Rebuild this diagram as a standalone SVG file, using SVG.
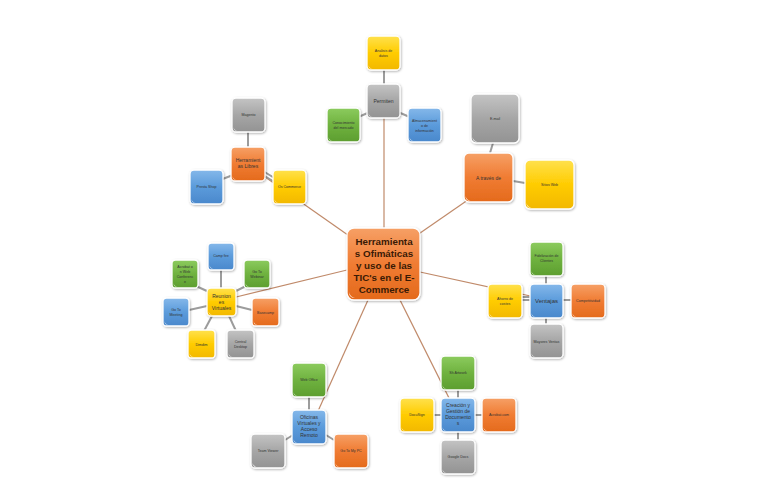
<svg xmlns="http://www.w3.org/2000/svg" width="768" height="497" viewBox="0 0 768 497">
<defs>
<linearGradient id="gO" x1="0" y1="0" x2="0" y2="1"><stop offset="0" stop-color="#f6a066"/><stop offset="0.5" stop-color="#f07c33"/><stop offset="1" stop-color="#e46a1c"/></linearGradient>
<linearGradient id="gY" x1="0" y1="0" x2="0" y2="1"><stop offset="0" stop-color="#ffe14d"/><stop offset="0.5" stop-color="#ffcc00"/><stop offset="1" stop-color="#f2b800"/></linearGradient>
<linearGradient id="gG" x1="0" y1="0" x2="0" y2="1"><stop offset="0" stop-color="#8ccb5e"/><stop offset="0.5" stop-color="#6fb23f"/><stop offset="1" stop-color="#5d9e30"/></linearGradient>
<linearGradient id="gB" x1="0" y1="0" x2="0" y2="1"><stop offset="0" stop-color="#85b8ea"/><stop offset="0.5" stop-color="#5b9bdb"/><stop offset="1" stop-color="#4a88cc"/></linearGradient>
<linearGradient id="gA" x1="0" y1="0" x2="0" y2="1"><stop offset="0" stop-color="#c4c4c4"/><stop offset="0.5" stop-color="#a6a6a6"/><stop offset="1" stop-color="#939393"/></linearGradient>
<filter id="sh" x="-20%" y="-20%" width="140%" height="140%"><feDropShadow dx="0.8" dy="1" stdDeviation="0.8" flood-color="#000" flood-opacity="0.3"/></filter>
</defs>
<style>
rect.n{stroke:#ffffff;stroke-width:1.3;filter:url(#sh)}
.o{fill:url(#gO)}.y{fill:url(#gY)}.g{fill:url(#gG)}.b{fill:url(#gB)}.a{fill:url(#gA)}
.curl{fill:#ffffff;opacity:0.85}
text{font-family:"Liberation Sans",Arial,sans-serif;fill:#333;text-anchor:middle}
.t4{font-size:3.6px}
.t5{font-size:5px}
.t6{font-size:6px}
.tc{font-size:9.8px;font-weight:bold;fill:#3a1a05}
.main{stroke:#c08a6a;stroke-width:1.2;fill:none}
.sub{stroke:#9c9c9c;stroke-width:2;fill:none}
</style>
<rect width="768" height="497" fill="#ffffff"/>
<g id="connectors">
<line class="main" x1="384" y1="228" x2="384" y2="118"/>
<line class="main" x1="410" y1="240" x2="475" y2="195"/>
<line class="main" x1="355" y1="240" x2="258" y2="172"/>
<line class="main" x1="347" y1="270" x2="232" y2="298"/>
<line class="main" x1="420" y1="272" x2="535" y2="297"/>
<line class="main" x1="368" y1="300" x2="314" y2="420"/>
<line class="main" x1="400" y1="300" x2="455" y2="410"/>
<line class="sub" x1="384" y1="70" x2="384" y2="84"/>
<line class="sub" x1="370" y1="112" x2="356" y2="118"/>
<line class="sub" x1="398" y1="112" x2="412" y2="118"/>
<line class="sub" x1="490" y1="153" x2="493" y2="143"/>
<line class="sub" x1="513" y1="181" x2="525" y2="183"/>
<line class="sub" x1="248" y1="132" x2="248" y2="147"/>
<line class="sub" x1="233" y1="175" x2="220" y2="180"/>
<line class="sub" x1="263" y1="171" x2="276" y2="179" stroke-width="1.2"/>
<line class="sub" x1="263" y1="175" x2="276" y2="183" stroke-width="1.2"/>
<line class="sub" x1="221" y1="270" x2="221" y2="288"/>
<line class="sub" x1="246" y1="286" x2="234" y2="292"/>
<line class="sub" x1="196" y1="286" x2="209" y2="292"/>
<line class="sub" x1="189" y1="310" x2="207" y2="306"/>
<line class="sub" x1="236" y1="306" x2="252" y2="310"/>
<line class="sub" x1="204" y1="331" x2="212" y2="316"/>
<line class="sub" x1="236" y1="331" x2="229" y2="316"/>
<line class="sub" x1="546" y1="276" x2="546" y2="284"/>
<line class="sub" x1="522" y1="297" x2="530" y2="297" stroke-width="1.2"/>
<line class="sub" x1="522" y1="300" x2="530" y2="300" stroke-width="1.2"/>
<line class="sub" x1="563" y1="300" x2="571" y2="300"/>
<line class="sub" x1="546" y1="318" x2="546" y2="324"/>
<line class="sub" x1="309" y1="397" x2="309" y2="410"/>
<line class="sub" x1="285" y1="440" x2="293" y2="435"/>
<line class="sub" x1="326" y1="435" x2="334" y2="440"/>
<line class="sub" x1="458" y1="390" x2="458" y2="398"/>
<line class="sub" x1="434" y1="415" x2="441" y2="415"/>
<line class="sub" x1="475" y1="415" x2="482" y2="415"/>
<line class="sub" x1="458" y1="432" x2="458" y2="440"/>
</g>

<g id="center" transform="translate(347,228)">
<rect class="n o" width="73" height="72" rx="7"/>
<path class="curl" d="M2,64 q0,6 6,6 q-5,-1 -6,-6z"/>
<text class="tc" x="37" y="17">Herramienta</text>
<text class="tc" x="37" y="29">s Ofimáticas</text>
<text class="tc" x="37" y="41">y uso de las</text>
<text class="tc" x="37" y="53">TIC's en el E-</text>
<text class="tc" x="37" y="65">Commerce</text>
</g>

<g id="permiten" transform="translate(367,84)"><rect class="n a" width="33" height="34" rx="4"/><path class="curl" d="M1.5,29 q0,4 4,4 q-3.5,-1 -4,-4z"/><text class="t5" x="16.5" y="19">Permiten</text></g>
<g id="analisis" transform="translate(367,36)"><rect class="n y" width="33" height="34" rx="4"/><path class="curl" d="M1.5,29 q0,4 4,4 q-3.5,-1 -4,-4z"/><text class="t4" x="16.5" y="16">Analisis de</text><text class="t4" x="16.5" y="21">datos</text></g>
<g id="conocimiento" transform="translate(327,108)"><rect class="n g" width="33" height="34" rx="4"/><path class="curl" d="M1.5,29 q0,4 4,4 q-3.5,-1 -4,-4z"/><text class="t4" x="16.5" y="16">Conocimiento</text><text class="t4" x="16.5" y="21">del mercado</text></g>
<g id="almacenamiento" transform="translate(408,108)"><rect class="n b" width="33" height="34" rx="4"/><path class="curl" d="M1.5,29 q0,4 4,4 q-3.5,-1 -4,-4z"/><text class="t4" x="16.5" y="14">Almacenamient</text><text class="t4" x="16.5" y="19">o de</text><text class="t4" x="16.5" y="24">información</text></g>

<g id="atraves" transform="translate(464,153)"><rect class="n o" width="49" height="49" rx="5"/><path class="curl" d="M1.5,43 q0,5 5,5 q-4,-1 -5,-5z"/><text class="t5" x="24.5" y="27">A través de</text></g>
<g id="email" transform="translate(471,94)"><rect class="n a" width="48" height="49" rx="5"/><path class="curl" d="M1.5,43 q0,5 5,5 q-4,-1 -5,-5z"/><text class="t4" x="24" y="26">E-mail</text></g>
<g id="sitios" transform="translate(525,160)"><rect class="n y" width="49" height="49" rx="5"/><path class="curl" d="M1.5,43 q0,5 5,5 q-4,-1 -5,-5z"/><text class="t4" x="24.5" y="26">Sitios Web</text></g>

<g id="herramientas" transform="translate(231,147)"><rect class="n o" width="34" height="34" rx="4"/><path class="curl" d="M1.5,29 q0,4 4,4 q-3.5,-1 -4,-4z"/><text class="t5" x="17" y="15">Herramient</text><text class="t5" x="17" y="21">as Libres</text></g>
<g id="magento" transform="translate(232,98)"><rect class="n a" width="33" height="34" rx="4"/><path class="curl" d="M1.5,29 q0,4 4,4 q-3.5,-1 -4,-4z"/><text class="t4" x="16.5" y="18">Magento</text></g>
<g id="presta" transform="translate(190,170)"><rect class="n b" width="33" height="34" rx="4"/><path class="curl" d="M1.5,29 q0,4 4,4 q-3.5,-1 -4,-4z"/><text class="t4" x="16.5" y="18">Presta Shop</text></g>
<g id="oscommerce" transform="translate(273,170)"><rect class="n y" width="33" height="34" rx="4"/><path class="curl" d="M1.5,29 q0,4 4,4 q-3.5,-1 -4,-4z"/><text class="t4" x="16.5" y="18">Os Commerce</text></g>

<g id="reuniones" transform="translate(207,288)"><rect class="n y" width="29" height="28" rx="4"/><path class="curl" d="M1.5,23 q0,4 4,4 q-3.5,-1 -4,-4z"/><text class="t5" x="14.5" y="10">Reunion</text><text class="t5" x="14.5" y="16">es</text><text class="t5" x="14.5" y="22">Virtuales</text></g>
<g id="campfire" transform="translate(208,243)"><rect class="n b" width="26" height="27" rx="3.5"/><path class="curl" d="M1.5,22 q0,4 4,4 q-3.5,-1 -4,-4z"/><text class="t4" x="13" y="14">Camp fire</text></g>
<g id="gotowebinar" transform="translate(244,260)"><rect class="n g" width="26" height="28" rx="3.5"/><path class="curl" d="M1.5,23 q0,4 4,4 q-3.5,-1 -4,-4z"/><text class="t4" x="13" y="13">Go To</text><text class="t4" x="13" y="18">Webinar</text></g>
<g id="acrobatweb" transform="translate(172,260)"><rect class="n g" width="26" height="28" rx="3.5"/><path class="curl" d="M1.5,23 q0,4 4,4 q-3.5,-1 -4,-4z"/><text class="t4" x="13" y="8">Acrobat o</text><text class="t4" x="13" y="13">n Web</text><text class="t4" x="13" y="18">Conferenc</text><text class="t4" x="13" y="23">e</text></g>
<g id="gotomeeting" transform="translate(163,298)"><rect class="n b" width="26" height="28" rx="3.5"/><path class="curl" d="M1.5,23 q0,4 4,4 q-3.5,-1 -4,-4z"/><text class="t4" x="13" y="13">Go To</text><text class="t4" x="13" y="18">Meeting</text></g>
<g id="basecamp" transform="translate(252,298)"><rect class="n o" width="27" height="28" rx="3.5"/><path class="curl" d="M1.5,23 q0,4 4,4 q-3.5,-1 -4,-4z"/><text class="t4" x="13.5" y="16">Basecamp</text></g>
<g id="dimdim" transform="translate(188,330)"><rect class="n y" width="27" height="28" rx="3.5"/><path class="curl" d="M1.5,23 q0,4 4,4 q-3.5,-1 -4,-4z"/><text class="t4" x="13.5" y="16">Dimdim</text></g>
<g id="centraldesktop" transform="translate(227,330)"><rect class="n a" width="27" height="28" rx="3.5"/><path class="curl" d="M1.5,23 q0,4 4,4 q-3.5,-1 -4,-4z"/><text class="t4" x="13.5" y="13">Central</text><text class="t4" x="13.5" y="18">Desktop</text></g>

<g id="ventajas" transform="translate(530,284)"><rect class="n b" width="33" height="34" rx="4"/><path class="curl" d="M1.5,29 q0,4 4,4 q-3.5,-1 -4,-4z"/><text class="t6" x="16.5" y="19">Ventajas</text></g>
<g id="fidelizacion" transform="translate(530,242)"><rect class="n g" width="33" height="34" rx="4"/><path class="curl" d="M1.5,29 q0,4 4,4 q-3.5,-1 -4,-4z"/><text class="t4" x="16.5" y="15">Fidelización de</text><text class="t4" x="16.5" y="20">Clientes</text></g>
<g id="ahorro" transform="translate(488,284)"><rect class="n y" width="34" height="34" rx="4"/><path class="curl" d="M1.5,29 q0,4 4,4 q-3.5,-1 -4,-4z"/><text class="t4" x="17" y="16">Ahorro de</text><text class="t4" x="17" y="21">costes</text></g>
<g id="competitividad" transform="translate(571,284)"><rect class="n o" width="34" height="34" rx="4"/><path class="curl" d="M1.5,29 q0,4 4,4 q-3.5,-1 -4,-4z"/><text class="t4" x="17" y="18">Competitividad</text></g>
<g id="mayores" transform="translate(530,324)"><rect class="n a" width="33" height="34" rx="4"/><path class="curl" d="M1.5,29 q0,4 4,4 q-3.5,-1 -4,-4z"/><text class="t4" x="16.5" y="19">Mayores Ventas</text></g>

<g id="oficinas" transform="translate(292,410)"><rect class="n b" width="34" height="34" rx="4"/><path class="curl" d="M1.5,29 q0,4 4,4 q-3.5,-1 -4,-4z"/><text class="t5" x="17" y="9">Oficinas</text><text class="t5" x="17" y="15">Virtuales y</text><text class="t5" x="17" y="21">Acceso</text><text class="t5" x="17" y="27">Remoto</text></g>
<g id="weboffice" transform="translate(292,363)"><rect class="n g" width="34" height="34" rx="4"/><path class="curl" d="M1.5,29 q0,4 4,4 q-3.5,-1 -4,-4z"/><text class="t4" x="17" y="18">Web Office</text></g>
<g id="teamviewer" transform="translate(251,434)"><rect class="n a" width="34" height="34" rx="4"/><path class="curl" d="M1.5,29 q0,4 4,4 q-3.5,-1 -4,-4z"/><text class="t4" x="17" y="18">Team Viewer</text></g>
<g id="gotomypc" transform="translate(334,434)"><rect class="n o" width="34" height="34" rx="4"/><path class="curl" d="M1.5,29 q0,4 4,4 q-3.5,-1 -4,-4z"/><text class="t4" x="17" y="18">Go To My PC</text></g>

<g id="creacion" transform="translate(441,398)"><rect class="n b" width="34" height="34" rx="4"/><path class="curl" d="M1.5,29 q0,4 4,4 q-3.5,-1 -4,-4z"/><text class="t5" x="17" y="9">Creación y</text><text class="t5" x="17" y="15">Gestión de</text><text class="t5" x="17" y="21">Documento</text><text class="t5" x="17" y="27">s</text></g>
<g id="shartwork" transform="translate(441,356)"><rect class="n g" width="34" height="34" rx="4"/><path class="curl" d="M1.5,29 q0,4 4,4 q-3.5,-1 -4,-4z"/><text class="t4" x="17" y="18">Sh Artwork</text></g>
<g id="docusign" transform="translate(400,398)"><rect class="n y" width="34" height="34" rx="4"/><path class="curl" d="M1.5,29 q0,4 4,4 q-3.5,-1 -4,-4z"/><text class="t4" x="17" y="18">DocuSign</text></g>
<g id="acrobatcom" transform="translate(482,398)"><rect class="n o" width="34" height="34" rx="4"/><path class="curl" d="M1.5,29 q0,4 4,4 q-3.5,-1 -4,-4z"/><text class="t4" x="17" y="18">Acrobat.com</text></g>
<g id="googledocs" transform="translate(441,440)"><rect class="n a" width="34" height="34" rx="4"/><path class="curl" d="M1.5,29 q0,4 4,4 q-3.5,-1 -4,-4z"/><text class="t4" x="17" y="18">Google Docs</text></g>
</svg>
